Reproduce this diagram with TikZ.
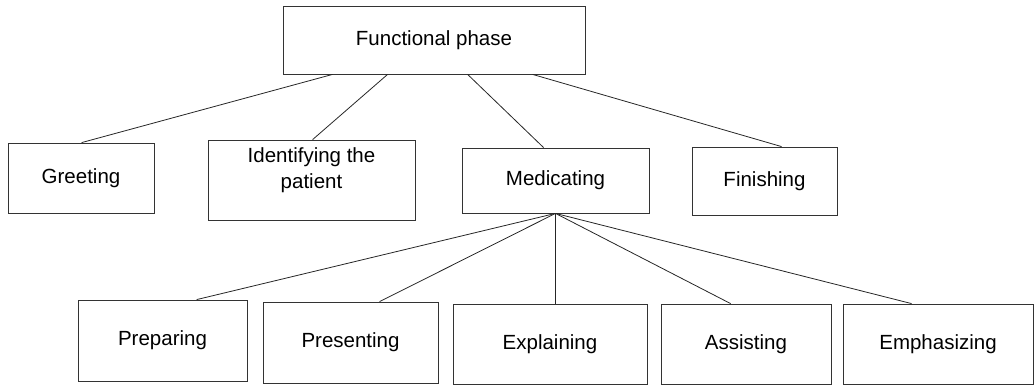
\documentclass[tikz,border=0pt]{standalone}
\usepackage{fontspec}
\setmainfont{Liberation Sans}
\usepackage{tikz}
\usetikzlibrary{positioning}
\usetikzlibrary{calc}
% box from its corner points (x1,y1)-(x2,y2), y counted downwards
\newcommand\phasebox[7][]{%
  \node[phase,#1,minimum width=\the\dimexpr#5pt-#3pt\relax,
    minimum height=\the\dimexpr#6pt-#4pt\relax]
    (#2) at ({(#3+#5)/2},{(#4+#6)/2}) {#7};
}

\begin{document}
\begin{tikzpicture}[x=1pt, y=-1pt,
phase/.style={
  rectangle,
  draw=black!80,
  line width=0.8pt,
  inner sep=0pt,
  align=center,
  font=\fontsize{20.5}{26}\selectfont},
link/.style={draw=black!85, line width=0.8pt}
]
\useasboundingbox (0,0) rectangle (1035,385);
\phasebox{top}{283}{6}{585}{74}{Functional phase}
\phasebox{greet}{8}{143}{154}{213}{Greeting}
\phasebox[text depth=24pt]{ident}{208}{140}{415}{220}{Identifying the\\patient}
\phasebox{medic}{462}{148}{649}{213}{Medicating}
\phasebox{finish}{692}{147}{837}{215}{Finishing}
\phasebox{prep}{78}{300}{247}{381}{Preparing}
\phasebox{pres}{263}{302}{438}{383}{Presenting}
\phasebox{expl}{453}{304}{647}{384}{Explaining}
\phasebox{assist}{661}{304}{831}{384}{Assisting}
\phasebox{emph}{843}{304}{1033}{384}{Emphasizing}
% first level
\draw[link] ([xshift=50]top.south west) -- ([xshift=74]greet.north west);
\draw[link] ([xshift=105]top.south west) -- ([xshift=105]ident.north west);
\draw[link] ([xshift=185]top.south west) -- ([xshift=82]medic.north west);
\draw[link] ([xshift=250]top.south west) -- ([xshift=90]finish.north west);
% second level
\draw[link] (medic.south) -- ([xshift=119]prep.north west);
\draw[link] (medic.south) -- ([xshift=117]pres.north west);
\draw[link] (medic.south) -- (medic.south |- expl.north);
\draw[link] (medic.south) -- ([xshift=70]assist.north west);
\draw[link] (medic.south) -- ([xshift=69]emph.north west);
\end{tikzpicture}
\end{document}
